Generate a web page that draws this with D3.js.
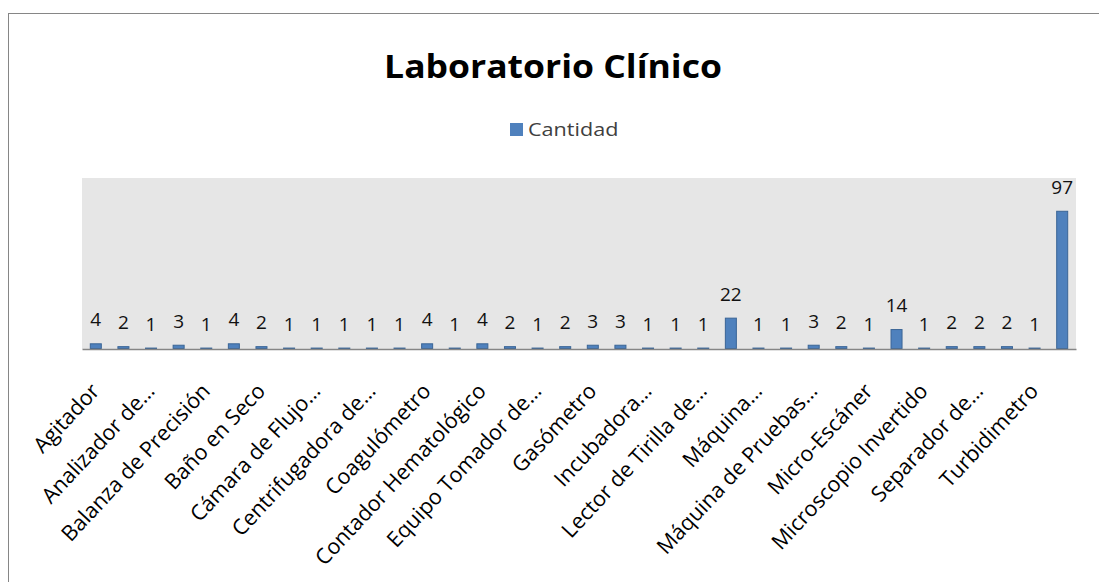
<!DOCTYPE html>
<html lang="es">
<head>
    <meta charset="UTF-8">
    <title>Laboratorio Clínico</title>
    <style>
        body { margin: 0; background: #fff; }
        text { font-family: "Open Sans", "Liberation Sans", sans-serif; }
    </style>
</head>
<body>
    <div id="chart"></div>

    <script src="https://d3js.org/d3.v7.min.js"></script>
    <script>
        // equipment names (only every second one is printed on the axis)
        const categories = [
            "Agitador", "Agitador de Tubos", "Analizador de…", "Autoclave",
            "Balanza de Precisión", "Baño María", "Baño en Seco", "Cabina de…",
            "Cámara de Flujo…", "Centrífuga", "Centrifugadora de…", "Citocentrífuga",
            "Coagulómetro", "Congelador", "Contador Hematológico", "Destilador",
            "Equipo Tomador de…", "Espectrofotómetro", "Gasómetro", "Horno de…",
            "Incubadora…", "Lámpara…", "Lector de Tirilla de…", "Lector de…",
            "Máquina…", "Máquina de…", "Máquina de Pruebas…", "Mezclador…",
            "Micro-Escáner", "Microscopio", "Microscopio Invertido", "Nevera",
            "Separador de…", "Termómetro", "Turbidimetro", "Tubos…"
        ];
        const cantidad = [4, 2, 1, 3, 1, 4, 2, 1, 1, 1, 1, 1, 4, 1, 4, 2, 1, 2,
                          3, 3, 1, 1, 1, 22, 1, 1, 3, 2, 1, 14, 1, 2, 2, 2, 1, 97];
        const yTicks = [0, 120];

        const svg = d3.select("#chart").append("svg")
            .attr("width", 1099).attr("height", 582);

        // chart frame
        svg.append("rect")
            .attr("x", 8.5).attr("y", 13.5)
            .attr("width", 1100).attr("height", 600)
            .attr("fill", "#fff").attr("stroke", "#868686");

        const margin = {top: 178, left: 82, right: 23, bottom: 233};
        const width = 1099 - margin.left - margin.right;
        const height = 582 - margin.top - margin.bottom;

        const g = svg.append("g")
            .attr("transform", "translate(" + margin.left + "," + margin.top + ")");

        const x = d3.scaleBand().domain(categories).range([0, width]).paddingInner(0.565).paddingOuter(0.2825);
        const y = d3.scaleLinear().domain(d3.extent(yTicks)).range([height, 0]);

        // plot area
        g.append("rect")
            .attr("width", width).attr("height", height)
            .attr("fill", "#e6e6e6");

        // bars
        g.selectAll(".bar")
            .data(categories)
            .enter().append("rect")
            .attr("class", "bar")
            .attr("x", d => x(d) + 0.5)
            .attr("y", (d, i) => y(cantidad[i]) + 0.5)
            .attr("width", x.bandwidth() - 1)
            .attr("height", (d, i) => Math.max(0, height - y(cantidad[i]) - 1))
            .attr("fill", "#4f81bd")
            .attr("stroke", "#3a6596");

        // value labels
        g.selectAll(".val")
            .data(categories)
            .enter().append("text")
            .attr("class", "val")
            .attr("x", d => x(d) + x.bandwidth() / 2)
            .attr("y", (d, i) => y(cantidad[i]) - 17)
            .attr("text-anchor", "middle")
            .attr("font-size", 19)
            .attr("fill", "#111")
            .text((d, i) => cantidad[i]);

        // x axis
        const xAxis = g.append("g")
            .attr("transform", "translate(0," + height + ")")
            .call(d3.axisBottom(x).tickSize(0).tickFormat((d, i) => i % 2 === 0 ? d : ""));
        xAxis.select(".domain").attr("stroke", "#868686").attr("stroke-width", 1.5);
        xAxis.selectAll("text")
            .attr("font-size", 21.5)
            .attr("fill", "#000")
            .attr("text-anchor", "end")
            .attr("y", 0)
            .attr("dy", 0)
            .attr("transform", "translate(5,43) rotate(-47)");

        // title
        svg.append("text")
            .attr("transform", "translate(553,78) scale(1.11,1)")
            .attr("text-anchor", "middle")
            .attr("font-size", 32)
            .attr("font-weight", "bold")
            .attr("fill", "#000")
            .text("Laboratorio Clínico");

        // legend
        svg.append("rect")
            .attr("x", 510).attr("y", 123)
            .attr("width", 13).attr("height", 13)
            .attr("fill", "#4f81bd");
        svg.append("text")
            .attr("transform", "translate(528,136) scale(1.2,1)")
            .attr("font-size", 18)
            .attr("fill", "#404040")
            .text("Cantidad");
    </script>
</body>
</html>
